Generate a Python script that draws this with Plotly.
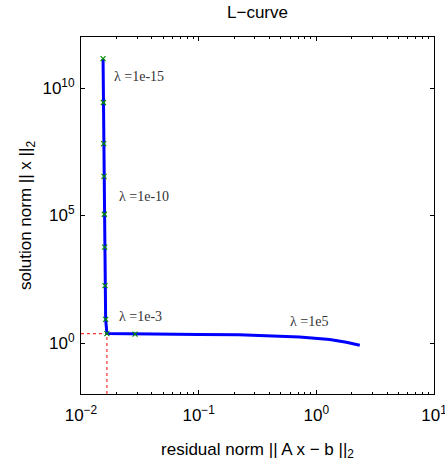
import numpy as np
import plotly.graph_objects as go

# L-curve data (residual norm, solution norm)
residual = [0.0154, 0.0155, 0.0156, 0.0157, 0.0158, 0.0159, 0.0160, 0.0162, 0.0166,
            0.0288, 0.057, 0.10, 0.22, 0.45, 0.72, 1.30, 1.80, 2.34]
solution = [1.41e11, 2.7e9, 6.6e7, 3.4e6, 1.12e5, 5.75e3, 178, 8.5, 2.34,
            2.24, 2.19, 2.14, 2.09, 1.91, 1.72, 1.36, 1.07, 0.81]

# marked regularization parameters
mark_res = [0.0154, 0.0155, 0.0156, 0.0157, 0.0158, 0.0159, 0.0160, 0.0162, 0.0166, 0.0288]
mark_sol = [1.41e11, 2.7e9, 6.6e7, 3.4e6, 1.12e5, 5.75e3, 178, 8.5, 2.34, 2.24]

# corner
corner_res = 0.0166
corner_sol = 2.34

# labels
lab_text = ["λ =1e-15", "λ =1e-10", "λ =1e-3", "λ =1e5"]
lab_res = [0.01845, 0.0202, 0.0202, 0.577]
lab_sol = [2.9e10, 5.4e5, 10.5, 7.2]

# tick labels
x_tickvals = [0.01, 0.1, 1, 10]
x_ticktext = ["10<sup>−2</sup>", "10<sup>−1</sup>", "10<sup>0</sup>", "10<sup>1</sup>"]
y_tickvals = [1, 1e5, 1e10]
y_ticktext = ["10<sup>0</sup>", "10<sup>5</sup>", "10<sup>10</sup>"]
x_minor = [m * 10.0 ** e for e in (-2, -1, 0) for m in range(2, 10)]

fig = go.Figure()

fig.add_trace(go.Scatter(x=[0.01, corner_res], y=[corner_sol, corner_sol], mode="lines",
                         line=dict(color="#ff3030", width=1.2, dash="dot"), showlegend=False))
fig.add_trace(go.Scatter(x=[corner_res, corner_res], y=[0.01, corner_sol], mode="lines",
                         line=dict(color="#ff3030", width=1.2, dash="dot"), showlegend=False))
fig.add_trace(go.Scatter(x=residual, y=solution, mode="lines",
                         line=dict(color="#0000ff", width=3), showlegend=False))
fig.add_trace(go.Scatter(x=mark_res, y=mark_sol, mode="markers",
                         marker=dict(symbol="x-thin", size=5, line=dict(color="#009000", width=1.2)),
                         showlegend=False))

for t, xr, ys in zip(lab_text, lab_res, lab_sol):
    fig.add_annotation(x=np.log10(xr), y=np.log10(ys), text=t, showarrow=False,
                       xanchor="left", yanchor="middle",
                       font=dict(family="Liberation Serif, Times New Roman, serif", size=14, color="#333333"))

sans = "Liberation Sans, Arial, Helvetica"
axis_common = dict(type="log", showline=True, linecolor="black", linewidth=1, mirror="allticks",
                   ticks="inside", ticklen=4, tickcolor="black", showgrid=False, zeroline=False,
                   tickmode="array", ticklabeloverflow="allow", automargin=False,
                   tickfont=dict(family=sans, size=17, color="black"))
minor_x = dict(ticks="inside", ticklen=2, tickcolor="black", tickmode="array",
               tickvals=x_minor, showgrid=False)

fig.update_layout(
    width=445, height=467,
    margin=dict(l=81, r=11, t=37, b=73),
    paper_bgcolor="white", plot_bgcolor="white",
    title=dict(text="L−curve", xref="paper", x=0.5, xanchor="center", y=0.975, yanchor="middle",
               font=dict(family=sans, size=17, color="black")),
    xaxis=dict(axis_common, range=[-2, 1], tickvals=x_tickvals, ticktext=x_ticktext, ticklabelstandoff=6,
               minor=minor_x,
               title=dict(text="residual norm || A x − b ||<sub>2</sub>", standoff=18,
                          font=dict(family=sans, size=17, color="black"))),
    xaxis2=dict(type="log", range=[-2, 1], overlaying="x", side="top", showline=False,
                ticks="inside", ticklen=4, tickcolor="black", tickmode="array", tickvals=x_tickvals,
                showticklabels=False, showgrid=False, zeroline=False, automargin=False,
                minor=minor_x),
    yaxis=dict(axis_common, range=[-2, 12], tickvals=y_tickvals, ticktext=y_ticktext, ticklabelstandoff=2,
               title=dict(text="solution norm || x ||<sub>2</sub>", standoff=6,
                          font=dict(family=sans, size=17, color="black"))),
)

fig.write_html("out.html")
